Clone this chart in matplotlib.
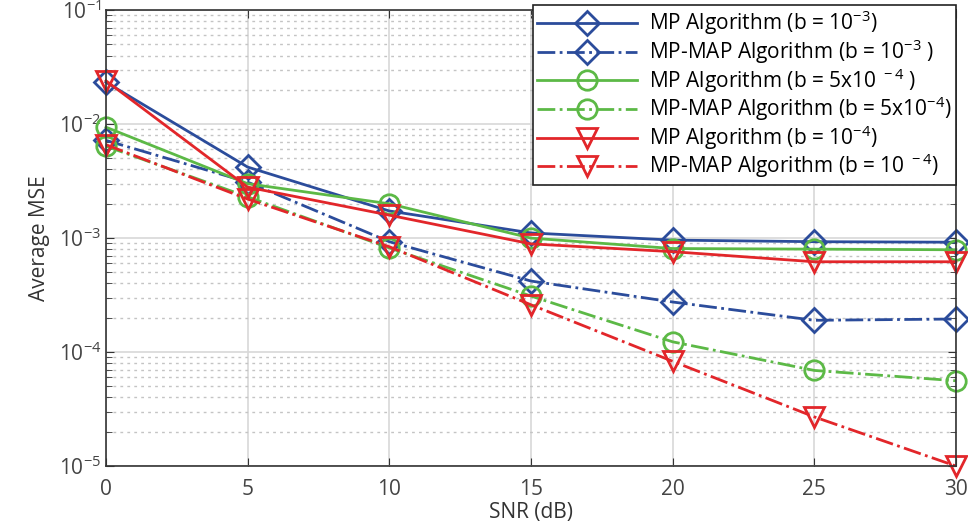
import matplotlib
matplotlib.use("Agg")
import matplotlib.pyplot as plt
import numpy as np

plt.rcParams['font.family'] = ['Open Sans', 'DejaVu Sans']
plt.rcParams['mathtext.default'] = 'regular'

snr = [0, 5, 10, 15, 20, 25, 30]

mp_1e3 = [0.0233, 0.0042, 0.00173, 0.00111, 0.00096, 0.00093, 0.00092]
map_1e3 = [0.0072, 0.0031, 0.00093, 0.00042, 0.000275, 0.00019, 0.000195]
mp_5e4 = [0.0094, 0.0030, 0.0020, 0.00100, 0.00081, 0.00080, 0.00079]
map_5e4 = [0.0064, 0.0023, 0.00082, 0.00031, 0.000123, 6.9e-5, 5.6e-5]
mp_1e4 = [0.0240, 0.0028, 0.00159, 0.00089, 0.00076, 0.00062, 0.00062]
map_1e4 = [0.0066, 0.0022, 0.00084, 0.00026, 8.3e-5, 2.7e-5, 1.0e-5]

labels = [
    'MP Algorithm (b = 10$^{-3}$)',
    'MP-MAP Algorithm (b = 10$^{-3}$ )',
    'MP Algorithm (b = 5x10$^{\\ -4}$ )',
    'MP-MAP Algorithm (b = 5x10$^{-4}$)',
    'MP Algorithm (b = 10$^{-4}$)',
    'MP-MAP Algorithm (b = 10$^{\\ -4}$)',
]

blue = '#2b4c9b'
green = '#5cb946'
red = '#e2262a'

fig = plt.figure(figsize=(9.68, 5.27), dpi=100)
ax = fig.add_axes([0.1095, 0.1157, 0.878, 0.865])

series = [
    (mp_1e3, blue, '-', 'D', 12),
    (map_1e3, blue, '-.', 'D', 12),
    (mp_5e4, green, '-', 'o', 14),
    (map_5e4, green, '-.', 'o', 14),
    (mp_1e4, red, '-', 'v', 15),
    (map_1e4, red, '-.', 'v', 15),
]
for (vals, c, ls, m, ms), lab in zip(series, labels):
    ax.plot(snr, vals, color=c, linestyle=ls, marker=m, markersize=ms,
            markerfacecolor='none', markeredgewidth=2, linewidth=2,
            label=lab, clip_on=False)

ax.set_yscale('log')
ax.set_xlim(0, 30)
ax.set_ylim(1e-5, 1e-1)
ax.set_xticks(snr)
ax.grid(True, which='major', color='#d8d8d8', linewidth=1.2)
ax.grid(True, which='minor', color='#c4c4c4', linestyle=(0, (2, 3)), linewidth=1)
ax.tick_params(which='both', direction='in', top=True, right=True,
               labelsize=15, colors='#333333', labelcolor='#444444')
ax.tick_params(which='major', length=6)
ax.tick_params(which='minor', length=4)
ax.tick_params(axis='x', which='both', pad=9)
ax.tick_params(axis='x', which='minor', bottom=False, top=False)
for s in ax.spines.values():
    s.set_color('#333333')
    s.set_linewidth(1.2)

ax.set_xlabel('SNR (dB)', fontsize=15, color='#333333', labelpad=2)
ax.set_ylabel('Average MSE', fontsize=15, color='#333333', labelpad=6)

leg = ax.legend(loc='upper right', bbox_to_anchor=(1.0, 1.012), borderaxespad=0,
                fontsize=15, fancybox=False, framealpha=1, edgecolor='#222222',
                handlelength=4.8, labelspacing=0.0, borderpad=0.2,
                handletextpad=0.6)
leg.get_frame().set_linewidth(1.2)

fig.savefig('out.png', dpi=100)
